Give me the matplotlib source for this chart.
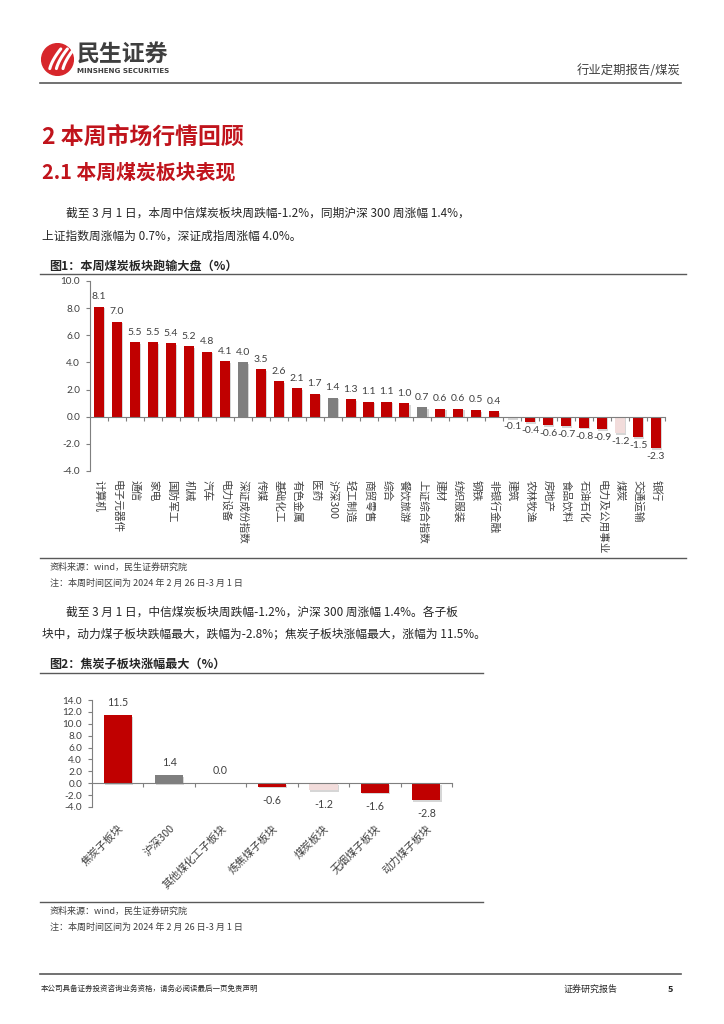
import numpy as np
import matplotlib.pyplot as plt
import matplotlib.transforms as mtransforms
import matplotlib.patheffects as pe
from matplotlib.lines import Line2D
from matplotlib.patches import Circle

plt.rcParams['font.family'] = ['Noto Sans CJK SC', 'DejaVu Sans']

# Figure 1 data: weekly change by sector (%)
sectors = ["计算机", "电子元器件", "通信", "家电", "国防军工", "机械", "汽车", "电力设备",
           "深证成份指数", "传媒", "基础化工", "有色金属", "医药", "沪深300", "轻工制造",
           "商贸零售", "综合", "餐饮旅游", "上证综合指数", "建材", "纺织服装", "钢铁",
           "非银行金融", "建筑", "农林牧渔", "房地产", "食品饮料", "石油石化",
           "电力及公用事业", "煤炭", "交通运输", "银行"]
sector_chg = [8.1, 7.0, 5.5, 5.5, 5.4, 5.2, 4.8, 4.1, 4.0, 3.5, 2.6, 2.1, 1.7, 1.4, 1.3,
              1.1, 1.1, 1.0, 0.7, 0.6, 0.6, 0.5, 0.4, -0.1, -0.4, -0.6, -0.7, -0.8,
              -0.9, -1.2, -1.5, -2.3]

# Figure 2 data: coal sub-sectors (%)
sub_names = ["焦炭子板块", "沪深300", "其他煤化工子板块", "炼焦煤子板块", "煤炭板块",
             "无烟煤子板块", "动力煤子板块"]
sub_chg = [11.5, 1.4, 0.0, -0.6, -1.2, -1.6, -2.8]

index_items = ["深证成份指数", "沪深300", "上证综合指数"]
coal_items = ["煤炭", "煤炭板块"]

RED = "#C00000"
GRAY = "#7F7F7F"
PINK = "#F2DCDB"
TXT = "#404040"
AXC = "#7F7F7F"
HEAD = "#C0141C"
NUM = ["Lato", "DejaVu Sans"]

W, H = 724, 1024
fig = plt.figure(figsize=(W / 100, H / 100), dpi=100)


def fx(x):
    return x / W


def fy(y):
    return 1 - y / H


def hline(y, x0, x1, lw=1.0, color="#595959"):
    fig.add_artist(Line2D([fx(x0), fx(x1)], [fy(y), fy(y)], lw=lw, color=color,
                          transform=fig.transFigure))


def bar_color(name):
    if name in index_items:
        return GRAY
    if name in coal_items:
        return PINK
    return RED


def style_axes(ax, n, ylo, yhi, step, fs):
    ax.set_xlim(-0.5, n - 0.5)
    ax.set_ylim(ylo, yhi)
    ticks = np.arange(ylo, yhi + 0.01, step)
    ax.set_yticks(ticks)
    ax.set_yticklabels([f"{t:.1f}" for t in ticks], fontsize=fs, color=TXT, family=NUM)
    for s in ["top", "right"]:
        ax.spines[s].set_visible(False)
    ax.spines["left"].set_color(AXC)
    ax.spines["bottom"].set_color(AXC)
    ax.spines["bottom"].set_position(("data", 0))
    ax.set_xticks(np.arange(n) + 0.5)
    ax.set_xticklabels([])
    ax.tick_params(axis="y", direction="out", length=3, color=AXC, pad=4)
    ax.tick_params(axis="x", direction="out", length=3, color=AXC)
    ax.patch.set_alpha(0)


shadow = [pe.SimplePatchShadow(offset=(0.8, -1.2), shadow_rgbFace="#A6A6A6", alpha=0.45),
          pe.Normal()]

# ---- page header ----
logo = fig.add_axes([fx(41), fy(76), fx(33), 33 / H])
logo.set_xlim(0, 1)
logo.set_ylim(0, 1)
logo.axis("off")
logo.add_patch(Circle((0.5, 0.5), 0.48, color="#D7262B"))
for k in range(3):
    t = np.linspace(0.15, 1.0, 30)
    logo.plot(0.25 + 0.2 * k + 0.35 * t ** 1.6, 0.12 + 0.7 * t, color="white",
              lw=2.2, solid_capstyle="round")
fig.text(fx(77), fy(55), "民生证券", fontsize=16.5, fontweight="bold", color="#3F3F3F",
         va="center")
fig.text(fx(77), fy(71), "MINSHENG SECURITIES", fontsize=5.1, fontweight="bold",
         color="#3F3F3F", va="center", family=["DejaVu Sans"])
fig.text(fx(681), fy(70), "行业定期报告/煤炭", fontsize=8.9, color="#404040",
         ha="right", va="center")
hline(83, 40, 681, lw=1.2)

# ---- section text ----
fig.text(fx(42), fy(137), "2 本周市场行情回顾", fontsize=16.5, fontweight="bold",
         color=HEAD, va="center")
fig.text(fx(42), fy(172), "2.1 本周煤炭板块表现", fontsize=14.3, fontweight="bold",
         color=HEAD, va="center")
fig.text(fx(66), fy(213), "截至 3 月 1 日，本周中信煤炭板块周跌幅-1.2%，同期沪深 300 周涨幅 1.4%，",
         fontsize=8.45, color="#262626", va="center")
fig.text(fx(42), fy(236), "上证指数周涨幅为 0.7%，深证成指周涨幅 4.0%。",
         fontsize=8.45, color="#262626", va="center")

fig.text(fx(49), fy(266), "图1：本周煤炭板块跑输大盘（%）", fontsize=8.7,
         fontweight="bold", color="#262626", va="center")
hline(274, 40, 686, lw=1.0)

# ---- figure 1 ----
ax1 = fig.add_axes([fx(90), fy(471), fx(665) - fx(90), fy(281) - fy(471)])
x1 = np.arange(len(sectors))
bars1 = ax1.bar(x1, sector_chg, width=0.56, color=[bar_color(n) for n in sectors],
                zorder=2)
for b in bars1:
    b.set_path_effects(shadow)
style_axes(ax1, len(sectors), -4, 10, 2, 7.2)
for i, v in enumerate(sector_chg):
    if v >= 0:
        ax1.annotate(f"{v:.1f}", (i, v), xytext=(0, 4), textcoords="offset points",
                     ha="center", va="bottom", fontsize=7.5, color=TXT, family=NUM)
    else:
        ax1.annotate(f"{v:.1f}", (i, v), xytext=(0, -3), textcoords="offset points",
                     ha="center", va="top", fontsize=7.5, color=TXT, family=NUM)
tr1 = mtransforms.blended_transform_factory(ax1.transData, ax1.transAxes)
for i, name in enumerate(sectors):
    ax1.text(i, -0.05, name, rotation=-90, ha="center", va="top", fontsize=7.7,
             color=TXT, transform=tr1)

hline(558, 40, 686, lw=1.0)
fig.text(fx(50), fy(567), "资料来源：wind，民生证券研究院", fontsize=6.5, color="#404040",
         va="center")
fig.text(fx(50), fy(583), "注：本周时间区间为 2024 年 2 月 26 日-3 月 1 日", fontsize=6.5,
         color="#404040", va="center")

fig.text(fx(66), fy(612), "截至 3 月 1 日，中信煤炭板块周跌幅-1.2%，沪深 300 周涨幅 1.4%。各子板",
         fontsize=8.45, color="#262626", va="center")
fig.text(fx(42), fy(634), "块中，动力煤子板块跌幅最大，跌幅为-2.8%；焦炭子板块涨幅最大，涨幅为 11.5%。",
         fontsize=8.45, color="#262626", va="center")

fig.text(fx(49), fy(664), "图2：焦炭子板块涨幅最大（%）", fontsize=8.7,
         fontweight="bold", color="#262626", va="center")
hline(673, 40, 483, lw=1.0)

# ---- figure 2 ----
ax2 = fig.add_axes([fx(92), fy(807), fx(452) - fx(92), fy(700) - fy(807)])
x2 = np.arange(len(sub_names))
bars2 = ax2.bar(x2, sub_chg, width=0.55, color=[bar_color(n) for n in sub_names],
                zorder=2)
for b in bars2:
    b.set_path_effects(shadow)
style_axes(ax2, len(sub_names), -4, 14, 2, 7.2)
for i, v in enumerate(sub_chg):
    if v >= 0:
        ax2.annotate(f"{v:.1f}", (i, v), xytext=(0, 5), textcoords="offset points",
                     ha="center", va="bottom", fontsize=7.7, color=TXT, family=NUM)
    else:
        ax2.annotate(f"{v:.1f}", (i, v), xytext=(0, -6), textcoords="offset points",
                     ha="center", va="top", fontsize=7.7, color=TXT, family=NUM)
tr2 = mtransforms.blended_transform_factory(ax2.transData, ax2.transAxes)
for i, name in enumerate(sub_names):
    ax2.text(i, -0.15, name, rotation=45, ha="right", va="top", rotation_mode="anchor",
             fontsize=7.7, color=TXT, transform=tr2)

hline(902, 40, 483, lw=1.0)
fig.text(fx(50), fy(911), "资料来源：wind，民生证券研究院", fontsize=6.5, color="#404040",
         va="center")
fig.text(fx(50), fy(927), "注：本周时间区间为 2024 年 2 月 26 日-3 月 1 日", fontsize=6.5,
         color="#404040", va="center")

# ---- footer ----
hline(974, 40, 681, lw=1.2)
fig.text(fx(41), fy(989), "本公司具备证券投资咨询业务资格，请务必阅读最后一页免责声明",
         fontsize=5.4, color="#262626", va="center")
fig.text(fx(564), fy(989), "证券研究报告", fontsize=6.5, color="#262626", va="center")
fig.text(fx(670), fy(989), "5", fontsize=6.5, fontweight="bold", color="#262626",
         va="center", ha="center")

fig.savefig("out.png", dpi=100)
